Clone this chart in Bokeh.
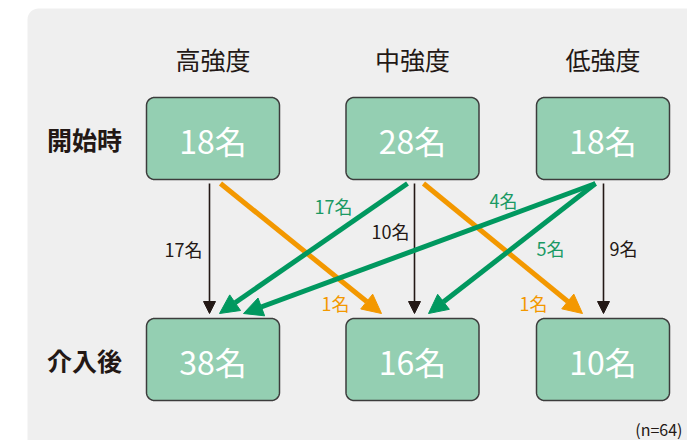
import numpy as np
from bokeh.plotting import figure
from bokeh.models import Range1d, Arrow, NormalHead, ColumnDataSource
from bokeh.core.properties import value
from bokeh.embed import file_html
from bokeh.resources import INLINE

# ---------------- data ----------------
intensities = ["高強度", "中強度", "低強度"]
phases = ["開始時", "介入後"]
start_counts = [18, 28, 18]
after_counts = [38, 16, 10]
flow_from = [0, 0, 1, 1, 1, 2, 2, 2]
flow_to = [0, 1, 0, 1, 2, 0, 1, 2]
flow_count = [17, 1, 17, 10, 1, 4, 5, 9]
total_n = 64
unit = "名"

# ---------------- layout / style ----------------
W, H = 687, 440
col_x = [212.5, 412.0, 602.5]
box_w, box_h = 133, 82
row_y = [138.0, 359.0]
header_y = 58
label_x = 84
arrow_y0, arrow_y1 = 183, 313

BLACK = "#231815"
GREEN = "#00985f"
GREEN_TXT = "#1a9a64"
ORANGE = "#f39800"
BOX_FILL = "#94cfb2"
PANEL = "#efefef"
FONT = "Noto Sans CJK JP"

# per-flow endpoint offsets from column centres and label placements (layout only)
start_off = {(0, 0): -3.5, (0, 1): 7.5, (1, 0): -5, (1, 1): 2, (1, 2): 11,
             (2, 0): -7.5, (2, 1): -7.5, (2, 2): 0.5}
end_off = {(0, 0): -3.5, (1, 0): 6.5, (2, 0): 30.5, (0, 1): -31, (1, 1): 2,
           (2, 1): 16, (1, 2): -20.5, (2, 2): 0.5}
label_pos = {(0, 0): (183, 248), (0, 1): (335, 302), (1, 0): (333, 205),
             (1, 1): (390, 230), (1, 2): (533, 302), (2, 0): (503, 199),
             (2, 1): (550, 247), (2, 2): (623, 247)}


def rrect(x0, y0, x1, y1, r, n=10):
    xs, ys = [], []
    corners = [(x1 - r, y0 + r, -np.pi / 2, 0), (x1 - r, y1 - r, 0, np.pi / 2),
               (x0 + r, y1 - r, np.pi / 2, np.pi), (x0 + r, y0 + r, np.pi, 1.5 * np.pi)]
    for cx, cy, a0, a1 in corners:
        t = np.linspace(a0, a1, n)
        xs.extend(cx + r * np.cos(t))
        ys.extend(cy + r * np.sin(t))
    return xs, ys


p = figure(width=W, height=H, output_backend="svg", toolbar_location=None,
           x_range=Range1d(0, W), y_range=Range1d(H, 0), min_border=0)
p.axis.visible = False
p.grid.visible = False
p.outline_line_color = None
p.background_fill_color = "white"
p.border_fill_color = "white"

# panel
px, py = rrect(27, 8, W + 30, H + 30, 11)
p.patch(px, py, fill_color=PANEL, line_color=None)

# boxes
bxs, bys, btx, bty, btxt = [], [], [], [], []
for r, counts in enumerate([start_counts, after_counts]):
    for c, v in enumerate(counts):
        x, y = rrect(col_x[c] - box_w / 2, row_y[r] - box_h / 2,
                     col_x[c] + box_w / 2, row_y[r] + box_h / 2, 8)
        bxs.append(x)
        bys.append(y)
        btx.append(col_x[c])
        bty.append(row_y[r] + 1)
        btxt.append(f"{v}{unit}")
p.patches(bxs, bys, fill_color=BOX_FILL, line_color="#3c3c3c", line_width=1.5)
p.text(btx, bty, text=btxt, text_color="white", text_font=value(FONT),
       text_font_size=value("32px"), text_align="center", text_baseline="middle")

# headers
p.text(col_x, [header_y] * 3, text=intensities, text_color=BLACK, text_font=value(FONT),
       text_font_size=value("25px"), text_align="center", text_baseline="middle")
p.text([label_x] * 2, row_y, text=phases, text_color=BLACK, text_font=value(FONT),
       text_font_size=value("25px"), text_font_style="bold",
       text_align="center", text_baseline="middle")

# arrows
groups = {"same": dict(x0=[], y0=[], x1=[], y1=[]),
          "down": dict(x0=[], y0=[], x1=[], y1=[]),
          "up": dict(x0=[], y0=[], x1=[], y1=[])}
lx, ly, lt, lc = [], [], [], []
for f, t, n in zip(flow_from, flow_to, flow_count):
    g = "same" if f == t else ("down" if t > f else "up")
    d = groups[g]
    d["x0"].append(col_x[f] + start_off[(f, t)])
    d["y0"].append(arrow_y0)
    d["x1"].append(col_x[t] + end_off[(f, t)])
    d["y1"].append(arrow_y1)
    x, y = label_pos[(f, t)]
    lx.append(x)
    ly.append(y)
    lt.append(f"{n}{unit}")
    lc.append({"same": BLACK, "down": ORANGE, "up": GREEN_TXT}[g])

styles = {"same": (BLACK, 1.6, 12), "down": (ORANGE, 5, 19), "up": (GREEN, 5, 19)}
for g, d in groups.items():
    col, lw, hs = styles[g]
    src = ColumnDataSource(d)
    p.add_layout(Arrow(x_start="x0", y_start="y0", x_end="x1", y_end="y1", source=src,
                       line_color=col, line_width=lw,
                       end=NormalHead(size=hs, fill_color=col, line_color=col, line_width=1)))

p.text(lx, ly, text=lt, text_color=lc, text_font=value(FONT),
       text_font_size=value("18px"), text_align="center", text_baseline="middle")

p.text([682], [428], text=[f"(n={total_n})"], text_color=BLACK, text_font=value(FONT),
       text_font_size=value("16px"), text_align="right", text_baseline="middle")

open("out.html", "w").write(file_html(p, INLINE))
